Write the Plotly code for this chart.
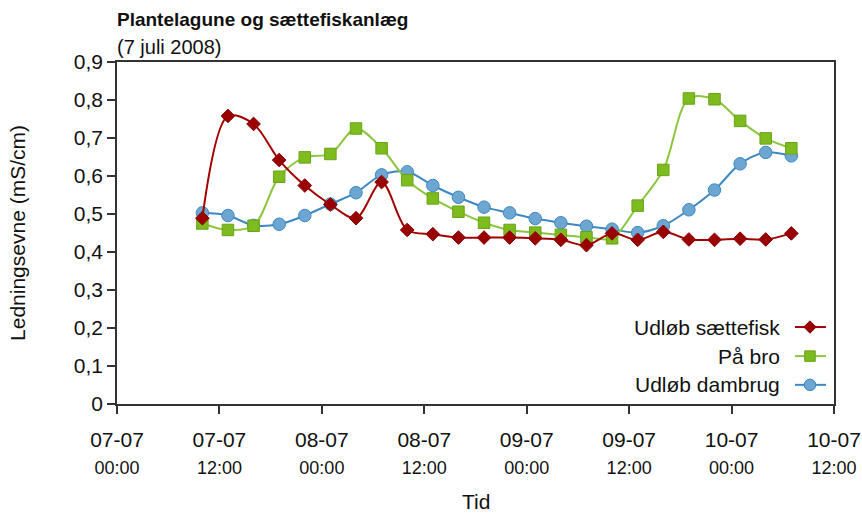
import pandas as pd
import plotly.graph_objects as go

# ---- data ----
times = pd.date_range("2008-07-07 10:00", periods=24, freq="3h")
udlob_saettefisk = [0.489, 0.758, 0.737, 0.642, 0.575, 0.525, 0.489, 0.584, 0.458, 0.447,
                    0.438, 0.438, 0.438, 0.436, 0.432, 0.418, 0.449, 0.432, 0.453, 0.433,
                    0.432, 0.435, 0.433, 0.449]
paa_bro = [0.475, 0.458, 0.469, 0.598, 0.649, 0.658, 0.725, 0.673, 0.589, 0.541,
           0.506, 0.477, 0.458, 0.451, 0.445, 0.439, 0.436, 0.522, 0.616, 0.804,
           0.802, 0.745, 0.699, 0.673]
udlob_dambrug = [0.503, 0.496, 0.470, 0.473, 0.496, 0.526, 0.556, 0.603, 0.611, 0.575,
                 0.544, 0.518, 0.503, 0.488, 0.477, 0.468, 0.460, 0.451, 0.469, 0.511,
                 0.563, 0.632, 0.662, 0.653]

series_names = ["Udløb sættefisk", "På bro", "Udløb dambrug"]
x_tickvals = pd.date_range("2008-07-07 00:00", periods=8, freq="12h")
x_date_labels = ["07-07", "07-07", "08-07", "08-07", "09-07", "09-07", "10-07", "10-07"]
x_time_labels = ["00:00", "12:00", "00:00", "12:00", "00:00", "12:00", "00:00", "12:00"]
y_tickvals = [0, 0.1, 0.2, 0.3, 0.4, 0.5, 0.6, 0.7, 0.8, 0.9]
y_ticktext = ["0", "0,1", "0,2", "0,3", "0,4", "0,5", "0,6", "0,7", "0,8", "0,9"]

FONT = "Liberation Sans, Arial, Helvetica, sans-serif"
AX = "#333333"

styles = {
    "Udløb sættefisk": dict(line="#A30000", fill="#9A0000", border="#8A0000", symbol="diamond", size=10.5),
    "På bro": dict(line="#8CC63F", fill="#7DBB1E", border="#6AA318", symbol="square", size=11.5),
    "Udløb dambrug": dict(line="#3D88C3", fill="#6DA7D1", border="#3D88C3", symbol="circle", size=12.5),
}
data = {"Udløb sættefisk": udlob_saettefisk, "På bro": paa_bro, "Udløb dambrug": udlob_dambrug}

fig = go.Figure()
# draw order: blue, green, red (red on top)
for name in reversed(series_names):
    s = styles[name]
    fig.add_trace(go.Scatter(
        x=times, y=data[name], name=name, mode="lines+markers",
        line=dict(color=s["line"], width=2, shape="spline", smoothing=0.9),
        marker=dict(symbol=s["symbol"], size=s["size"], color=s["fill"],
                    line=dict(color=s["border"], width=1)),
        showlegend=False,
    ))

# custom legend (text on the left, sample on the right)
legend_y = [0.225, 0.140, 0.056]
for name, ly in zip(series_names, legend_y):
    s = styles[name]
    fig.add_trace(go.Scatter(
        x=[0.9456, 0.9888], y=[ly, ly], xaxis="x2", yaxis="y2",
        mode="lines", showlegend=False, hoverinfo="skip",
        line=dict(color=s["line"], width=2),
    ))
    fig.add_trace(go.Scatter(
        x=[0.9665], y=[ly], xaxis="x2", yaxis="y2",
        mode="markers", showlegend=False, hoverinfo="skip",
        marker=dict(symbol=s["symbol"], size=s["size"] - 1, color=s["fill"],
                    line=dict(color=s["border"], width=1)),
    ))
    fig.add_annotation(x=0.9275, y=ly, xref="paper", yref="paper", text=name,
                       showarrow=False, xanchor="right", yanchor="middle",
                       font=dict(family=FONT, size=21, color="#111111"))

ticktext = [f"{d}<br><span style='font-size:18px'>{t}</span>" for d, t in zip(x_date_labels, x_time_labels)]

fig.update_layout(
    width=862, height=515,
    margin=dict(l=117, r=28, t=62, b=111),
    paper_bgcolor="white", plot_bgcolor="white",
    font=dict(family=FONT, size=21, color="#111111"),
    xaxis=dict(
        type="date", range=[x_tickvals[0], x_tickvals[-1]],
        tickvals=x_tickvals, ticktext=ticktext, automargin=False,
        showgrid=False, zeroline=False, showline=True, linecolor=AX, linewidth=1.5,
        mirror=True, ticks="outside", ticklen=8, tickcolor=AX, tickwidth=1.5,
        tickfont=dict(size=21), ticklabelstandoff=8,
    ),
    yaxis=dict(
        range=[0, 0.9], tickvals=y_tickvals, ticktext=y_ticktext, automargin=False,
        showgrid=False, zeroline=False, showline=True, linecolor=AX, linewidth=1.5,
        mirror=True, ticks="outside", ticklen=8, tickcolor=AX, tickwidth=1.5,
        tickfont=dict(size=21),
        title=dict(text="Ledningsevne (mS/cm)", font=dict(size=21), standoff=42),
    ),
    xaxis2=dict(overlaying="x", range=[0, 1], visible=False, fixedrange=True),
    yaxis2=dict(overlaying="y", range=[0, 1], visible=False, fixedrange=True),
)

# x-axis title
fig.add_annotation(x=0.5, y=-0.3216, xref="paper", yref="paper", text="Tid",
                   showarrow=False, xanchor="center", yanchor="bottom",
                   borderpad=0,
                   font=dict(family=FONT, size=21, color="#111111"))

fig.add_annotation(x=0, y=1, xref="paper", yref="paper", yshift=30,
                   text="<b>Plantelagune og sættefiskanlæg</b>", showarrow=False,
                   xanchor="left", yanchor="bottom", xshift=-2,
                   font=dict(family=FONT, size=19, color="#111111"))
fig.add_annotation(x=0, y=1, xref="paper", yref="paper", yshift=2,
                   text="(7 juli 2008)", showarrow=False,
                   xanchor="left", yanchor="bottom", xshift=-2,
                   font=dict(family=FONT, size=20, color="#111111"))

fig.write_html("out.html", post_script="document.body.style.margin='0';",
               config={"displayModeBar": False})
